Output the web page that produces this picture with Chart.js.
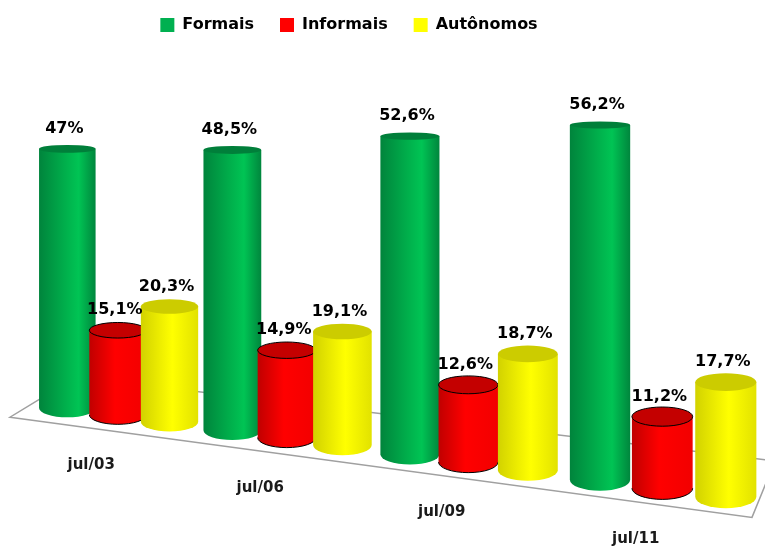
<!DOCTYPE html>
<html>
<head>
<meta charset="utf-8">
<script src="https://cdn.jsdelivr.net/npm/chart.js@4.4.1/dist/chart.umd.min.js"></script>
<style>
  html, body { margin: 0; padding: 0; background: #fff; }
  #wrap { width: 765px; height: 549px; }
</style>
</head>
<body>
<div id="wrap"><canvas id="chart"></canvas></div>
<script>
const periods = ["jul/03", "jul/06", "jul/09", "jul/11"];
const formais = [47, 48.5, 52.6, 56.2];
const informais = [15.1, 14.9, 12.6, 11.2];
const autonomos = [20.3, 19.1, 18.7, 17.7];

// cylinder look per series
const looks = [
  { top: "#007f3a", stops: [[0, "#00843c"], [0.45, "#00ae4b"], [0.7, "#00c454"], [1, "#00863d"]] },
  { top: "#c40000", stops: [[0, "#c00000"], [0.45, "#ff0000"], [1, "#f20000"]], outline: "#000" },
  { top: "#cccc00", stops: [[0, "#d2d200"], [0.55, "#ffff00"], [1, "#e2e200"]] },
];

const fmt = (v) => String(v).replace(".", ",") + "%";

// fake 3D: the floor tilts down to the right and gets closer to the viewer
function perspective(chart) {
  const a = chart.chartArea;
  const W = a.right - a.left;
  const ux = (x) => (x - a.left) / W;
  return {
    x: (x) => { const u = ux(x); return a.left + W * (0.862 * u + 0.138 * u * u); },
    width: (x) => 0.89 + 0.08 * ux(x),
    floor: (x) => a.bottom + 0.135 * (x - a.left),
    grow: (x) => 0.97 + 0.19 * ux(x),
    ry: (y) => 0.85 + 0.021 * y,
  };
}

function drawCylinder(ctx, p, cx, w, yt, yb, look) {
  const rx = w / 2;
  const rt = p.ry(yt), rb = p.ry(yb);
  const g = ctx.createLinearGradient(cx - rx, 0, cx + rx, 0);
  look.stops.forEach(([o, c]) => g.addColorStop(o, c));
  ctx.beginPath();
  ctx.moveTo(cx - rx, yt);
  ctx.lineTo(cx - rx, yb);
  ctx.ellipse(cx, yb, rx, rb, 0, Math.PI, 0, true);
  ctx.lineTo(cx + rx, yt);
  ctx.closePath();
  ctx.fillStyle = g;
  ctx.fill();
  if (look.outline) {
    ctx.beginPath();
    ctx.ellipse(cx, yb, rx, rb, 0, Math.PI, 0, true);
    ctx.strokeStyle = look.outline;
    ctx.lineWidth = 1;
    ctx.stroke();
  }
  ctx.beginPath();
  ctx.ellipse(cx, yt, rx, rt, 0, 0, Math.PI * 2);
  ctx.fillStyle = look.top;
  ctx.fill();
  if (look.outline) {
    ctx.strokeStyle = look.outline;
    ctx.stroke();
  }
}

const cylinders = {
  id: "cylinders",
  beforeDatasetsDraw() {
    return false; // bars are painted as cylinders in afterDraw
  },
  afterDraw(chart) {
    const { ctx } = chart;
    const a = chart.chartArea;
    const p = perspective(chart);
    ctx.save();

    // floor plate
    const fl = a.left - 28, fr = a.right - 12, bl = a.left + 38, br = a.right + 11;
    const back = (x) => p.floor(x) - 31.5 - 0.015 * (x - a.left);
    ctx.beginPath();
    ctx.moveTo(fl, p.floor(fl) + 17);
    ctx.lineTo(fr, p.floor(fr) + 17);
    ctx.lineTo(br, back(br));
    ctx.lineTo(bl, back(bl));
    ctx.closePath();
    ctx.strokeStyle = "#a0a0a0";
    ctx.lineWidth = 1.5;
    ctx.stroke();

    const labels = [];
    periods.forEach((period, i) => {
      let centre = 0;
      chart.data.datasets.forEach((ds, d) => {
        const bar = chart.getDatasetMeta(d).data[i];
        const cx = p.x(bar.x);
        const w = bar.width * p.width(bar.x);
        const yb = p.floor(cx);
        const yt = yb - (bar.base - bar.y) * p.grow(bar.x);
        drawCylinder(ctx, p, cx, w, yt, yb, looks[d]);
        labels.push({ text: fmt(ds.data[i]), x: cx - 3, y: yt - 20 });
        centre += cx / chart.data.datasets.length;
      });
      const lx = centre - 27;
      labels.push({ text: period, x: lx, y: p.floor(lx) + 54, small: true });
    });

    ctx.textAlign = "center";
    ctx.textBaseline = "middle";
    labels.forEach((l) => {
      ctx.font = l.small ? "bold 15px 'DejaVu Sans'" : "bold 16px 'DejaVu Sans'";
      ctx.fillStyle = l.small ? "#1a1a1a" : "#000";
      ctx.fillText(l.text, l.x, l.y);
    });
    ctx.restore();
  },
};

const legendShift = {
  id: "legendShift",
  afterLayout(chart) {
    const lg = chart.legend;
    lg.left -= 52; lg.right -= 52;
    lg.top -= 9; lg.bottom -= 9;
  },
};

new Chart(document.getElementById("chart"), {
  type: "bar",
  data: {
    labels: periods,
    datasets: [
      { label: "Formais", data: formais, backgroundColor: "#00b050", borderWidth: 0 },
      { label: "Informais", data: informais, backgroundColor: "#ff0000", borderWidth: 0 },
      { label: "Autônomos", data: autonomos, backgroundColor: "#ffff00", borderWidth: 0 },
    ],
  },
  options: {
    responsive: true,
    maintainAspectRatio: false,
    animation: false,
    layout: { padding: { left: 38, right: 1, top: 0, bottom: 145 } },
    datasets: { bar: { categoryPercentage: 0.942, barPercentage: 1.11 } },
    scales: {
      x: { display: false, offset: true },
      y: { display: false, min: 0, max: 62.5 },
    },
    plugins: {
      legend: {
        position: "top",
        labels: {
          boxWidth: 14,
          boxHeight: 14,
          padding: 26,
          color: "#000",
          font: { family: "'DejaVu Sans'", size: 16, weight: "bold" },
        },
      },
      tooltip: { enabled: false },
    },
  },
  plugins: [cylinders, legendShift],
});
</script>
</body>
</html>
